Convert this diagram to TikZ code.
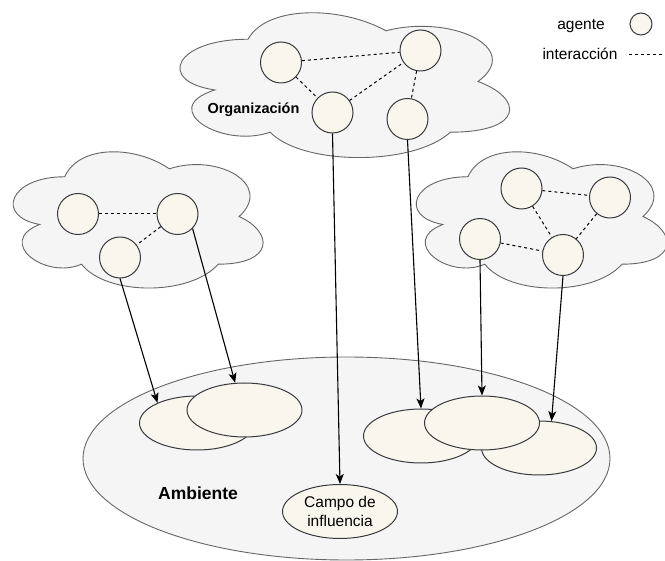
\documentclass[tikz,border=0pt]{standalone}
\usepackage{fontspec}
\setmainfont{Liberation Sans}
\usetikzlibrary{shapes.geometric,arrows.meta}

\definecolor{agentfill}{HTML}{F9F7ED}
\definecolor{agentline}{HTML}{36393D}
\definecolor{cloudfill}{HTML}{F5F5F5}
\definecolor{cloudline}{HTML}{666666}

\tikzset{
  cloudbody/.style={fill=cloudfill, draw=cloudline, line width=0.9pt},
  agent/.style={circle, fill=agentfill, draw=agentline, line width=1pt,
    minimum size=41pt, inner sep=0pt},
  legendagent/.style={agent, minimum size=22pt},
  field/.style={ellipse, fill=agentfill, draw=agentline, line width=1pt,
    minimum width=115pt, minimum height=54pt, inner sep=0pt},
  envbody/.style={ellipse, fill=cloudfill, draw=cloudline, line width=0.9pt,
    minimum width=527pt, minimum height=203pt, inner sep=0pt},
  link/.style={dashed, dash pattern=on 3pt off 3pt, line width=1pt, black},
  influence/.style={line width=1.1pt, black,
    -{Stealth[length=10pt,width=8pt,inset=2.5pt]}},
  label/.style={inner sep=0pt, text=black},
}

% cloud outline fitted into the box with corner (#1,#2), width #3, height #4
\newcommand{\orgcloud}[4]{%
  \begin{scope}[shift={(#1,#2)}, x=#3pt, y=-#4pt]
    \filldraw[cloudbody] (0.25,0.25)
      .. controls (0.05,0.25) and (0,0.5) .. (0.16,0.55)
      .. controls (0,0.66) and (0.18,0.9) .. (0.31,0.8)
      .. controls (0.4,1) and (0.7,1) .. (0.8,0.8)
      .. controls (1,0.8) and (1,0.6) .. (0.875,0.5)
      .. controls (1,0.3) and (0.8,0.1) .. (0.625,0.2)
      .. controls (0.5,0.05) and (0.3,0.05) .. (0.25,0.25) -- cycle;
  \end{scope}}

\begin{document}
\begin{tikzpicture}[x=1pt, y=-1pt]
  \useasboundingbox (0,0) rectangle (665,561);
  \fill[white] (0,0) rectangle (665,561);

  % legend
  \node[label, font=\fontsize{15.5}{18}\selectfont] (legagenttext) at (581,26) {agente};
  \node[legendagent] (legagent) at (641,24) {};
  \node[label, font=\fontsize{15.5}{18}\selectfont] (leglinktext) at (580,54) {interacción};
  \coordinate (legA) at (629,55);
  \coordinate (legB) at (665,55);
  \draw[link] (legA) -- (legB);

  % organisation clouds
  \orgcloud{156}{-3}{368}{169}
  \orgcloud{-5}{137}{279}{159}
  \orgcloud{398}{137}{280}{159}

  % agents of the upper organisation
  \node[agent] (A1) at (281,62.5) {};
  \node[agent] (A2) at (420.5,50.5) {};
  \node[agent] (A3) at (332.5,112.5) {};
  \node[agent] (A4) at (407.5,119) {};
  \draw[link] (A1) -- (A2);
  \draw[link] (A1) -- (A3);
  \draw[link] (A3) -- (A2);
  \draw[link] (A2) -- (A4);
  \node[label, font=\bfseries\fontsize{14.5}{17}\selectfont] (orglabel) at (253.5,110) {Organización};

  % agents of the left organisation
  \node[agent] (B1) at (78,214) {};
  \node[agent] (B2) at (177.5,214) {};
  \node[agent] (B3) at (120,257.5) {};
  \draw[link] (B1) -- (B2);
  \draw[link] (B2) -- (B3);

  % agents of the right organisation
  \node[agent] (C1) at (521.5,188.5) {};
  \node[agent] (C2) at (610,197.5) {};
  \node[agent] (C3) at (480,239) {};
  \node[agent] (C4) at (563,255) {};
  \draw[link] (C1) -- (C2);
  \draw[link] (C1) -- (C4);
  \draw[link] (C2) -- (C4);
  \draw[link] (C3) -- (C4);

  % environment and fields of influence
  \node[envbody] (env) at (346.5,458.5) {};
  \node[field] (E1) at (197,423) {};
  \node[field] (E2) at (244.5,410) {};
  \node[field] (R1) at (421,436) {};
  \node[field] (R3) at (539,448) {};
  \node[field] (R2) at (482,423) {};
  \node[field, align=center, font=\fontsize{15.5}{19}\selectfont] (campo) at (340,511.5)
    {Campo de\\influencia};
  \node[label, font=\bfseries\fontsize{17.5}{20}\selectfont] (envlabel) at (198,493) {Ambiente};

  % influence of each agent on the environment
  \draw[influence] (B3.south) -- (E1.153);
  \draw[influence] (B2.-44) -- (E2.109);
  \draw[influence] (A3.south) -- (campo.north);
  \draw[influence] (A4.south) -- (R1.north);
  \draw[influence] (C3.south) -- (R2.north);
  \draw[influence] (C4.south) -- (R3.65);
\end{tikzpicture}
\end{document}
